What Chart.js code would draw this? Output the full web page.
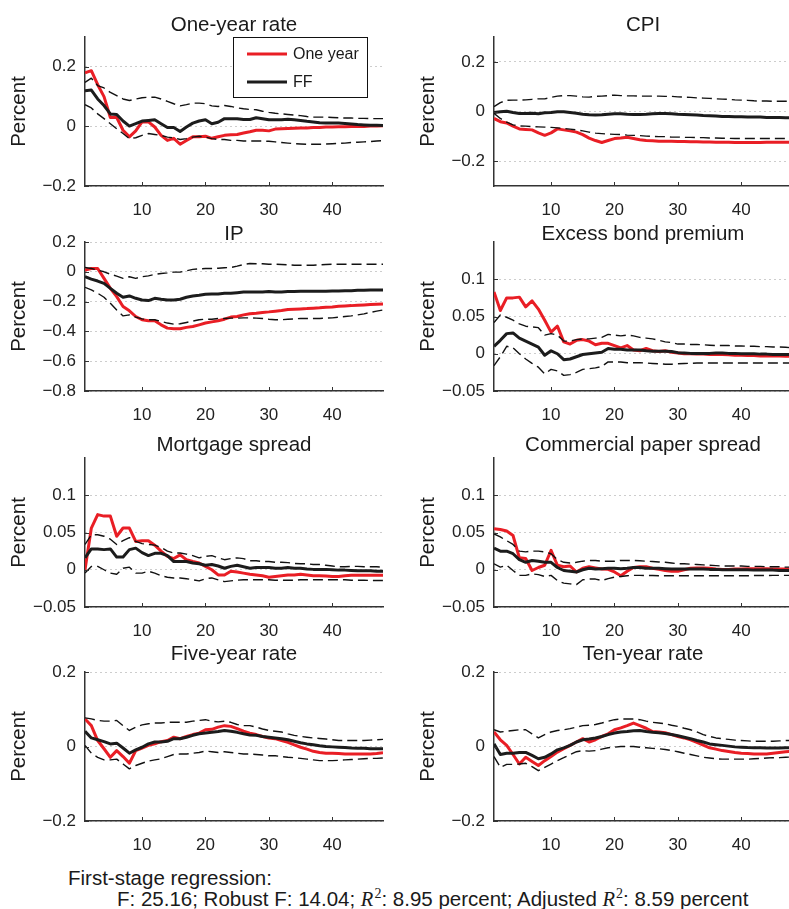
<!DOCTYPE html>
<html lang="en">
<head>
    <meta charset="UTF-8">
    <title>Impulse responses</title>
    <style>
        body {
            margin: 0;
            width: 789px;
            height: 909px;
            overflow: hidden;
            background: #fff;
            font-family: "Liberation Sans", Arial, sans-serif;
            color: #1a1a1a;
        }
        canvas {
            position: absolute;
        }
        .note {
            position: absolute;
            font-size: 20.5px;
            line-height: 21px;
            white-space: nowrap;
        }
        .note i {
            font-family: "Liberation Serif", "Times New Roman", serif;
        }
        .note .sup {
            font-family: "Liberation Serif", "Times New Roman", serif;
            font-size: 14px;
            position: relative;
            top: -8px;
            margin-left: 1px;
        }
    </style>
    <script src="https://cdn.jsdelivr.net/npm/chart.js@4.4.1/dist/chart.umd.min.js"></script>
</head>
<body>
    <canvas id="c0" width="395" height="218" style="left:0;top:0"></canvas>
    <canvas id="c1" width="395" height="218" style="left:409px;top:0"></canvas>
    <canvas id="c2" width="395" height="218" style="left:0;top:205px"></canvas>
    <canvas id="c3" width="395" height="218" style="left:409px;top:205px"></canvas>
    <canvas id="c4" width="395" height="218" style="left:0;top:421px"></canvas>
    <canvas id="c5" width="395" height="218" style="left:409px;top:421px"></canvas>
    <canvas id="c6" width="395" height="218" style="left:0;top:635px"></canvas>
    <canvas id="c7" width="395" height="218" style="left:409px;top:635px"></canvas>

    <div class="note" style="left:68px;top:867px">First-stage regression:</div>
    <div class="note" style="left:117px;top:888px">F: 25.16; Robust F: 14.04; <i>R</i><span class="sup">2</span>: 8.95 percent; Adjusted <i>R</i><span class="sup">2</span>: 8.59 percent</div>

    <script>
        // horizon (months)
        const horizon = [1, 2, 3, 4, 5, 6, 7, 8, 9, 10, 11, 12, 13, 14, 15, 16, 17, 18, 19, 20, 21, 22, 23, 24,
            25, 26, 27, 28, 29, 30, 31, 32, 33, 34, 35, 36, 37, 38, 39, 40, 41, 42, 43, 44, 45, 46, 47, 48];
        const xTicks = [10, 20, 30, 40];
        const seriesNames = ['One year', 'FF'];

        // One-year rate
        const rate1yOneYear = [0.18, 0.187, 0.14, 0.1, 0.03, 0.03, -0.013, -0.035, -0.015, 0.015, 0.015, -0.002, -0.03, -0.047, -0.04, -0.06, -0.047, -0.035, -0.035, -0.033, -0.04, -0.035, -0.03, -0.028,
            -0.027, -0.022, -0.018, -0.013, -0.013, -0.015, -0.009, -0.008, -0.007, -0.006, -0.005, -0.005, -0.004, -0.004, -0.002, -0.002, -0.001, -0.001, 0, 0, 0, 0.001, 0.001, 0.002];
        const rate1yFF = [0.12, 0.122, 0.092, 0.07, 0.042, 0.04, 0.018, 0.001, 0.009, 0.018, 0.02, 0.022, 0.009, -0.004, -0.004, -0.017, -0.002, 0.011, 0.018, 0.022, 0.009, 0.014, 0.026, 0.026,
            0.026, 0.023, 0.023, 0.029, 0.026, 0.022, 0.022, 0.022, 0.024, 0.022, 0.02, 0.017, 0.015, 0.012, 0.011, 0.011, 0.011, 0.01, 0.008, 0.006, 0.005, 0.004, 0.004, 0.003];
        const rate1yHi = [0.148, 0.162, 0.137, 0.129, 0.114, 0.103, 0.092, 0.087, 0.092, 0.096, 0.098, 0.098, 0.092, 0.084, 0.076, 0.069, 0.073, 0.078, 0.078, 0.076, 0.069, 0.067, 0.07, 0.067,
            0.062, 0.059, 0.057, 0.056, 0.051, 0.047, 0.044, 0.042, 0.04, 0.038, 0.036, 0.033, 0.031, 0.031, 0.031, 0.03, 0.029, 0.028, 0.028, 0.027, 0.027, 0.026, 0.026, 0.026];
        const rate1yLo = [0.073, 0.062, 0.042, 0.026, 0.009, -0.008, -0.024, -0.041, -0.038, -0.03, -0.024, -0.027, -0.03, -0.036, -0.038, -0.044, -0.041, -0.036, -0.033, -0.036, -0.041, -0.044, -0.044, -0.047,
            -0.047, -0.049, -0.049, -0.049, -0.049, -0.05, -0.052, -0.054, -0.056, -0.058, -0.059, -0.06, -0.06, -0.06, -0.059, -0.058, -0.057, -0.056, -0.054, -0.053, -0.052, -0.051, -0.049, -0.048];

        // CPI
        const cpiOneYear = [-0.028, -0.041, -0.046, -0.059, -0.07, -0.072, -0.074, -0.086, -0.096, -0.086, -0.07, -0.074, -0.078, -0.083, -0.093, -0.107, -0.117, -0.125, -0.117, -0.109, -0.107, -0.104, -0.109, -0.114,
            -0.117, -0.118, -0.12, -0.12, -0.12, -0.121, -0.121, -0.122, -0.122, -0.123, -0.123, -0.124, -0.124, -0.124, -0.125, -0.125, -0.125, -0.125, -0.125, -0.124, -0.124, -0.124, -0.124, -0.124];
        const cpiFF = [-0.004, -0.001, 0.001, -0.004, -0.008, -0.008, -0.007, -0.009, -0.005, -0.004, -0.001, -0.001, -0.004, -0.007, -0.011, -0.013, -0.014, -0.013, -0.011, -0.009, -0.009, -0.011, -0.012, -0.012,
            -0.011, -0.009, -0.008, -0.008, -0.009, -0.011, -0.012, -0.013, -0.014, -0.016, -0.017, -0.018, -0.02, -0.02, -0.021, -0.021, -0.022, -0.022, -0.022, -0.024, -0.024, -0.024, -0.025, -0.025];
        const cpiHi = [0.02, 0.036, 0.045, 0.046, 0.046, 0.047, 0.049, 0.051, 0.051, 0.057, 0.062, 0.064, 0.064, 0.062, 0.059, 0.058, 0.061, 0.062, 0.064, 0.066, 0.064, 0.063, 0.063, 0.062,
            0.062, 0.062, 0.062, 0.061, 0.061, 0.059, 0.058, 0.057, 0.055, 0.054, 0.053, 0.051, 0.05, 0.049, 0.047, 0.046, 0.045, 0.043, 0.042, 0.042, 0.041, 0.041, 0.041, 0.041];
        const cpiLo = [-0.007, -0.028, -0.043, -0.054, -0.058, -0.059, -0.061, -0.062, -0.063, -0.064, -0.066, -0.068, -0.071, -0.074, -0.078, -0.083, -0.087, -0.089, -0.091, -0.092, -0.093, -0.095, -0.096, -0.097,
            -0.099, -0.1, -0.101, -0.101, -0.103, -0.103, -0.104, -0.104, -0.105, -0.105, -0.107, -0.107, -0.108, -0.108, -0.109, -0.109, -0.109, -0.109, -0.109, -0.109, -0.109, -0.109, -0.109, -0.109];

        // IP
        const ipOneYear = [0.011, 0.022, 0.022, -0.044, -0.111, -0.167, -0.233, -0.262, -0.3, -0.322, -0.329, -0.329, -0.356, -0.378, -0.382, -0.382, -0.373, -0.367, -0.356, -0.344, -0.336, -0.329, -0.318, -0.304,
            -0.3, -0.289, -0.282, -0.278, -0.273, -0.269, -0.264, -0.26, -0.253, -0.251, -0.249, -0.247, -0.244, -0.242, -0.238, -0.236, -0.231, -0.229, -0.227, -0.224, -0.222, -0.22, -0.218, -0.216];
        const ipFF = [-0.033, -0.049, -0.062, -0.078, -0.111, -0.144, -0.171, -0.162, -0.178, -0.189, -0.193, -0.178, -0.184, -0.189, -0.189, -0.184, -0.171, -0.162, -0.158, -0.151, -0.149, -0.149, -0.144, -0.144,
            -0.14, -0.136, -0.136, -0.136, -0.136, -0.133, -0.136, -0.136, -0.133, -0.133, -0.131, -0.131, -0.131, -0.131, -0.131, -0.129, -0.129, -0.127, -0.127, -0.124, -0.124, -0.122, -0.122, -0.122];
        const ipHi = [0.029, 0.022, 0.011, 0, -0.016, -0.029, -0.044, -0.033, -0.044, -0.033, -0.027, -0.018, -0.011, -0.007, -0.002, -0.002, 0.007, 0.016, 0.02, 0.022, 0.022, 0.024, 0.027, 0.029,
            0.038, 0.049, 0.056, 0.054, 0.054, 0.051, 0.051, 0.049, 0.047, 0.044, 0.044, 0.044, 0.044, 0.047, 0.049, 0.051, 0.051, 0.051, 0.051, 0.051, 0.051, 0.051, 0.051, 0.051];
        const ipLo = [-0.104, -0.122, -0.144, -0.171, -0.211, -0.256, -0.296, -0.289, -0.304, -0.316, -0.322, -0.322, -0.333, -0.344, -0.351, -0.349, -0.34, -0.331, -0.322, -0.318, -0.318, -0.313, -0.313, -0.311,
            -0.311, -0.309, -0.309, -0.311, -0.313, -0.318, -0.322, -0.322, -0.318, -0.316, -0.313, -0.313, -0.313, -0.313, -0.311, -0.309, -0.304, -0.3, -0.296, -0.289, -0.282, -0.273, -0.264, -0.256];

        // Excess bond premium
        const ebpOneYear = [0.083, 0.058, 0.075, 0.075, 0.076, 0.063, 0.071, 0.06, 0.045, 0.029, 0.037, 0.016, 0.013, 0.018, 0.019, 0.017, 0.012, 0.014, 0.014, 0.011, 0.008, 0.011, 0.005, 0.004,
            0.007, 0.004, 0.003, 0.004, 0.002, 0.001, 0, 0, -0.0005, -0.0005, -0.001, -0.001, -0.001, -0.0015, -0.002, -0.002, -0.0022, -0.0022, -0.003, -0.003, -0.003, -0.003, -0.0033, -0.0033];
        const ebpFF = [0.01, 0.018, 0.027, 0.028, 0.021, 0.017, 0.013, 0.009, -0.002, 0.004, 0, -0.008, -0.007, -0.004, -0.001, 0, 0.001, 0.002, 0.007, 0.006, 0.006, 0.005, 0.005, 0.005,
            0.004, 0.0035, 0.0035, 0.0035, 0.003, 0.0015, 0.001, 0.0005, 0.0005, 0.0005, 0.0005, 0.001, 0.001, 0.0005, 0.0005, 0, 0, 0, -0.0005, -0.0005, -0.001, -0.001, -0.001, -0.001];
        const ebpHi = [0.042, 0.052, 0.049, 0.045, 0.04, 0.037, 0.036, 0.035, 0.025, 0.027, 0.025, 0.017, 0.017, 0.019, 0.02, 0.02, 0.021, 0.022, 0.026, 0.025, 0.024, 0.025, 0.024, 0.022,
            0.021, 0.02, 0.018, 0.016, 0.015, 0.013, 0.013, 0.0125, 0.0125, 0.012, 0.0115, 0.011, 0.011, 0.011, 0.0105, 0.0105, 0.01, 0.01, 0.0095, 0.0095, 0.009, 0.009, 0.0088, 0.008];
        const ebpLo = [-0.016, -0.004, 0.01, 0.008, 0, -0.007, -0.013, -0.018, -0.027, -0.021, -0.023, -0.029, -0.028, -0.025, -0.021, -0.02, -0.019, -0.017, -0.011, -0.011, -0.011, -0.012, -0.012, -0.012,
            -0.0125, -0.013, -0.0135, -0.014, -0.014, -0.0135, -0.013, -0.0128, -0.0125, -0.0125, -0.0125, -0.0125, -0.0125, -0.0125, -0.0125, -0.0125, -0.0125, -0.0125, -0.0125, -0.0125, -0.0125, -0.0125, -0.0125, -0.0125];

        // Mortgage spread
        const mortOneYear = [0, 0.056, 0.074, 0.072, 0.072, 0.045, 0.056, 0.056, 0.038, 0.039, 0.039, 0.033, 0.025, 0.018, 0.015, 0.02, 0.0135, 0.011, 0.009, 0.0045, 0, -0.007, -0.007, -0.002,
            -0.003, -0.0045, -0.006, -0.007, -0.008, -0.01, -0.009, -0.008, -0.007, -0.007, -0.006, -0.007, -0.008, -0.008, -0.0085, -0.009, -0.009, -0.008, -0.0075, -0.0075, -0.0075, -0.0075, -0.0075, -0.0075];
        const mortFF = [0.016, 0.028, 0.028, 0.027, 0.028, 0.017, 0.017, 0.027, 0.029, 0.023, 0.019, 0.022, 0.022, 0.019, 0.011, 0.011, 0.011, 0.009, 0.008, 0.006, 0.007, 0.005, 0.002, 0.0045,
            0.006, 0.004, 0.002, 0.003, 0.003, 0.003, 0.002, 0.002, 0.003, 0.002, 0.002, 0.001, 0.0005, 0.0005, 0.0005, 0, -0.0005, -0.0005, -0.001, -0.0015, -0.0015, -0.0015, -0.002, -0.002];
        const mortHi = [0.034, 0.047, 0.047, 0.045, 0.041, 0.034, 0.039, 0.043, 0.038, 0.035, 0.034, 0.033, 0.03, 0.025, 0.0225, 0.0225, 0.021, 0.019, 0.016, 0.018, 0.019, 0.016, 0.0135, 0.015,
            0.016, 0.015, 0.012, 0.012, 0.011, 0.011, 0.01, 0.01, 0.0095, 0.0085, 0.008, 0.008, 0.007, 0.007, 0.006, 0.005, 0.004, 0.004, 0.0045, 0.0045, 0.004, 0.004, 0.004, 0.0035];
        const mortLo = [-0.0045, 0.0045, 0.0045, 0, -0.0045, -0.006, 0.002, 0.0035, -0.0045, -0.0045, -0.002, -0.0045, -0.008, -0.01, -0.011, -0.011, -0.012, -0.0135, -0.015, -0.012, -0.011, -0.0135, -0.016, -0.015,
            -0.014, -0.0135, -0.0135, -0.0135, -0.0135, -0.0135, -0.014, -0.014, -0.014, -0.014, -0.0135, -0.0135, -0.0135, -0.0135, -0.0135, -0.0135, -0.0135, -0.0135, -0.014, -0.014, -0.014, -0.0145, -0.0145, -0.0145];

        // Commercial paper spread
        const cpOneYear = [0.055, 0.054, 0.052, 0.046, 0.016, 0.015, -0.001, 0.003, 0.006, 0.026, 0.006, 0.004, 0.005, -0.003, 0.002, 0.004, 0.0025, 0.001, 0.0005, -0.003, -0.008, -0.002, 0.003, 0.004,
            0.004, 0.002, 0.0005, -0.001, -0.002, -0.002, 0, 0.002, 0.0025, 0.0025, 0.002, 0.001, 0.0005, 0.0005, 0.001, 0.001, 0.0015, 0.0015, 0.0015, 0.0015, 0.001, 0.001, 0.001, 0.001];
        const cpFF = [0.029, 0.025, 0.025, 0.0215, 0.0135, 0.01, 0.0125, 0.0115, 0.01, 0.01, 0.003, -0.001, -0.002, -0.003, 0, 0.002, 0.001, 0.0015, 0.002, 0.002, 0.0015, 0.002, 0.003, 0.003,
            0.002, 0.002, 0.002, 0.0015, 0.001, 0.001, 0.001, 0.001, 0.001, 0.001, 0.0005, 0.0005, 0, 0, 0, 0, 0, -0.0005, -0.0005, -0.0005, -0.0005, -0.001, -0.001, -0.001];
        const cpHi = [0.048, 0.044, 0.039, 0.034, 0.025, 0.024, 0.025, 0.025, 0.024, 0.0215, 0.0135, 0.01, 0.009, 0.01, 0.0115, 0.0125, 0.0125, 0.0115, 0.0115, 0.0115, 0.0125, 0.0125, 0.0125, 0.012,
            0.0115, 0.011, 0.0105, 0.01, 0.009, 0.008, 0.008, 0.0075, 0.007, 0.0065, 0.006, 0.0055, 0.005, 0.005, 0.005, 0.005, 0.0045, 0.0045, 0.0045, 0.004, 0.004, 0.004, 0.0035, 0.0035];
        const cpLo = [0.008, 0.0035, 0.006, -0.001, -0.0075, -0.0075, -0.0055, -0.0065, -0.009, -0.0075, -0.0145, -0.018, -0.019, -0.02, -0.0135, -0.0125, -0.0125, -0.0145, -0.012, -0.01, -0.009, -0.008, -0.0075, -0.0075,
            -0.0078, -0.0078, -0.008, -0.008, -0.008, -0.008, -0.008, -0.008, -0.008, -0.008, -0.008, -0.008, -0.008, -0.008, -0.008, -0.008, -0.008, -0.0078, -0.0078, -0.0078, -0.0075, -0.0075, -0.0075, -0.0075];

        // Five-year rate
        const rate5yOneYear = [0.074, 0.056, 0.016, -0.006, -0.029, -0.011, -0.027, -0.045, -0.011, -0.004, 0.003, 0.007, 0.013, 0.016, 0.025, 0.021, 0.027, 0.032, 0.036, 0.045, 0.046, 0.052, 0.056, 0.054,
            0.048, 0.041, 0.036, 0.032, 0.027, 0.023, 0.021, 0.016, 0.011, 0.0045, -0.002, -0.007, -0.013, -0.016, -0.018, -0.018, -0.019, -0.02, -0.02, -0.02, -0.02, -0.02, -0.019, -0.017];
        const rate5yFF = [0.041, 0.023, 0.018, 0.013, 0.007, 0.009, -0.004, -0.018, -0.009, -0.002, 0.007, 0.012, 0.012, 0.014, 0.021, 0.021, 0.025, 0.03, 0.034, 0.036, 0.038, 0.04, 0.043, 0.041,
            0.038, 0.034, 0.031, 0.03, 0.027, 0.025, 0.023, 0.021, 0.018, 0.014, 0.01, 0.007, 0.0045, 0.002, 0, -0.001, -0.002, -0.003, -0.004, -0.0045, -0.005, -0.006, -0.006, -0.006];
        const rate5yHi = [0.077, 0.074, 0.07, 0.068, 0.068, 0.07, 0.056, 0.043, 0.052, 0.058, 0.061, 0.063, 0.063, 0.065, 0.065, 0.065, 0.065, 0.068, 0.07, 0.072, 0.068, 0.066, 0.068, 0.065,
            0.059, 0.056, 0.056, 0.052, 0.047, 0.043, 0.041, 0.039, 0.034, 0.03, 0.027, 0.025, 0.023, 0.0215, 0.02, 0.018, 0.016, 0.016, 0.016, 0.016, 0.016, 0.017, 0.018, 0.019];
        const rate5yLo = [0.003, -0.018, -0.029, -0.036, -0.036, -0.034, -0.047, -0.06, -0.051, -0.045, -0.039, -0.036, -0.033, -0.027, -0.0215, -0.02, -0.02, -0.018, -0.016, -0.0125, -0.014, -0.016, -0.014, -0.016,
            -0.018, -0.02, -0.02, -0.0215, -0.023, -0.025, -0.025, -0.027, -0.029, -0.03, -0.032, -0.034, -0.036, -0.038, -0.038, -0.038, -0.037, -0.036, -0.035, -0.034, -0.033, -0.032, -0.032, -0.031];

        // Ten-year rate
        const rate10yOneYear = [0.039, 0.018, 0.003, -0.0215, -0.047, -0.029, -0.04, -0.051, -0.038, -0.027, -0.015, -0.006, 0.003, 0.012, 0.021, 0.012, 0.018, 0.027, 0.034, 0.045, 0.05, 0.056, 0.063, 0.056,
            0.049, 0.04, 0.039, 0.037, 0.032, 0.027, 0.023, 0.018, 0.011, 0.0035, -0.0035, -0.007, -0.011, -0.0135, -0.016, -0.018, -0.019, -0.02, -0.02, -0.02, -0.018, -0.016, -0.014, -0.0125];
        const rate10yFF = [0.007, -0.0215, -0.018, -0.018, -0.016, -0.016, -0.024, -0.033, -0.029, -0.02, -0.009, -0.0035, 0.003, 0.012, 0.018, 0.02, 0.023, 0.027, 0.032, 0.036, 0.039, 0.04, 0.042, 0.043,
            0.04, 0.038, 0.037, 0.035, 0.032, 0.029, 0.025, 0.021, 0.016, 0.012, 0.007, 0.005, 0.003, 0.001, -0.001, -0.002, -0.003, -0.0035, -0.0035, -0.004, -0.004, -0.004, -0.0035, -0.0035];
        const rate10yHi = [0.045, 0.039, 0.041, 0.043, 0.045, 0.045, 0.034, 0.023, 0.032, 0.039, 0.043, 0.045, 0.048, 0.052, 0.056, 0.057, 0.059, 0.063, 0.068, 0.072, 0.074, 0.074, 0.074, 0.072,
            0.068, 0.065, 0.063, 0.061, 0.057, 0.054, 0.049, 0.045, 0.039, 0.032, 0.027, 0.023, 0.021, 0.019, 0.017, 0.016, 0.015, 0.014, 0.014, 0.014, 0.014, 0.015, 0.016, 0.016];
        const rate10yLo = [-0.027, -0.056, -0.048, -0.048, -0.047, -0.045, -0.054, -0.065, -0.056, -0.047, -0.038, -0.03, -0.0215, -0.014, -0.011, -0.0125, -0.011, -0.007, -0.0035, -0.002, 0, 0, 0, -0.002,
            -0.0035, -0.005, -0.006, -0.008, -0.011, -0.014, -0.018, -0.0215, -0.025, -0.029, -0.031, -0.033, -0.034, -0.034, -0.034, -0.034, -0.034, -0.033, -0.032, -0.031, -0.03, -0.03, -0.029, -0.028];

        // y tick labels per panel type
        const rateTicks = [-0.2, 0, 0.2];
        const ipTicks = [-0.8, -0.6, -0.4, -0.2, 0, 0.2];
        const spreadTicks = [-0.05, 0, 0.05, 0.1];

        const panels = [
            { title: 'One-year rate', series: [rate1yOneYear, rate1yFF, rate1yHi, rate1yLo], yMin: -0.2, yMax: 0.3, ticks: rateTicks, gap: 6, legend: true },
            { title: 'CPI', series: [cpiOneYear, cpiFF, cpiHi, cpiLo], yMin: -0.3, yMax: 0.3, ticks: rateTicks, gap: 6 },
            { title: 'IP', series: [ipOneYear, ipFF, ipHi, ipLo], yMin: -0.8, yMax: 0.2, ticks: ipTicks, gap: 2 },
            { title: 'Excess bond premium', series: [ebpOneYear, ebpFF, ebpHi, ebpLo], yMin: -0.05, yMax: 0.15, ticks: spreadTicks, gap: 2 },
            { title: 'Mortgage spread', series: [mortOneYear, mortFF, mortHi, mortLo], yMin: -0.05, yMax: 0.15, ticks: spreadTicks, gap: 7 },
            { title: 'Commercial paper spread', series: [cpOneYear, cpFF, cpHi, cpLo], yMin: -0.05, yMax: 0.15, ticks: spreadTicks, gap: 7 },
            { title: 'Five-year rate', series: [rate5yOneYear, rate5yFF, rate5yHi, rate5yLo], yMin: -0.2, yMax: 0.2, ticks: rateTicks, gap: 12 },
            { title: 'Ten-year rate', series: [rate10yOneYear, rate10yFF, rate10yHi, rate10yLo], yMin: -0.2, yMax: 0.2, ticks: rateTicks, gap: 12 }
        ];

        const RED = '#e91e25';
        const BLACK = '#1c1c1c';
        const FONT = '"Liberation Sans", Arial, sans-serif';

        Chart.defaults.font.family = FONT;
        Chart.defaults.font.size = 17;
        Chart.defaults.color = '#222';

        // title, inward tick marks and the legend box (MATLAB style)
        const panelDecor = {
            id: 'panelDecor',
            afterDraw(chart, args, opts) {
                const { ctx, chartArea: a, scales: { x, y } } = chart;
                ctx.save();

                ctx.strokeStyle = '#333';
                ctx.lineWidth = 1;
                ctx.beginPath();
                x.ticks.forEach(t => {
                    const px = Math.round(x.getPixelForValue(t.value)) + 0.5;
                    ctx.moveTo(px, a.bottom);
                    ctx.lineTo(px, a.bottom - 4);
                });
                y.ticks.forEach(t => {
                    const py = Math.round(y.getPixelForValue(t.value)) + 0.5;
                    ctx.moveTo(a.left, py);
                    ctx.lineTo(a.left + 4, py);
                });
                ctx.stroke();

                ctx.fillStyle = '#1a1a1a';
                ctx.font = '20.5px ' + FONT;
                ctx.textAlign = 'center';
                ctx.textBaseline = 'alphabetic';
                ctx.fillText(opts.text, (a.left + a.right) / 2, a.top - opts.gap);

                if (opts.legend) {
                    const bx = a.right - 150, by = a.top, bw = 135, bh = 61;
                    ctx.fillStyle = '#fff';
                    ctx.fillRect(bx, by, bw, bh);
                    ctx.strokeStyle = '#111';
                    ctx.lineWidth = 1;
                    ctx.strokeRect(bx + 0.5, by + 0.5, bw - 1, bh - 1);
                    ctx.font = '16px ' + FONT;
                    ctx.textAlign = 'left';
                    ctx.textBaseline = 'middle';
                    chart.data.datasets.slice(0, 2).forEach((ds, i) => {
                        const ly = by + 17 + i * 28;
                        ctx.strokeStyle = ds.borderColor;
                        ctx.lineWidth = ds.borderWidth;
                        ctx.beginPath();
                        ctx.moveTo(bx + 14, ly);
                        ctx.lineTo(bx + 54, ly);
                        ctx.stroke();
                        ctx.fillStyle = '#1a1a1a';
                        ctx.fillText(ds.label, bx + 60, ly + 1);
                    });
                }
                ctx.restore();
            }
        };

        function fmtTick(v) {
            if (v === 0) return '0';
            return v < 0 ? '\u2212' + String(-v) : String(v);
        }

        panels.forEach((p, i) => {
            const dashed = { borderColor: '#111', borderWidth: 1.4, borderDash: [10, 5], order: 0 };
            new Chart(document.getElementById('c' + i), {
                type: 'line',
                data: {
                    labels: horizon,
                    datasets: [
                        { label: seriesNames[0], data: p.series[0], borderColor: RED, borderWidth: 3, order: 2 },
                        { label: seriesNames[1], data: p.series[1], borderColor: BLACK, borderWidth: 3, order: 1 },
                        Object.assign({ label: 'upper', data: p.series[2] }, dashed),
                        Object.assign({ label: 'lower', data: p.series[3] }, dashed)
                    ]
                },
                options: {
                    responsive: false,
                    animation: false,
                    layout: { padding: { top: 37, right: 12, left: 0, bottom: 0 } },
                    elements: {
                        point: { radius: 0 },
                        line: { tension: 0, borderCapStyle: 'butt', borderJoinStyle: 'round' }
                    },
                    plugins: {
                        legend: { display: false },
                        tooltip: { enabled: false },
                        panelDecor: { text: p.title, gap: p.gap, legend: !!p.legend }
                    },
                    scales: {
                        x: {
                            type: 'linear',
                            min: 1,
                            max: 48,
                            afterBuildTicks: s => { s.ticks = xTicks.map(v => ({ value: v })); },
                            afterFit: s => { s.height = 32; },
                            grid: { display: false },
                            border: { display: true, color: '#333', width: 1.5 },
                            ticks: { padding: 6, maxRotation: 0, color: '#222' }
                        },
                        y: {
                            min: p.yMin,
                            max: p.yMax,
                            afterBuildTicks: s => { s.ticks = p.ticks.map(v => ({ value: v })); },
                            afterFit: s => { s.width = 85; },
                            grid: { color: '#9a9a9a', lineWidth: 1, drawTicks: false },
                            border: { display: true, color: '#333', width: 1.5, dash: [1, 4] },
                            ticks: { padding: 9, color: '#222', callback: fmtTick },
                            title: { display: true, text: 'Percent', font: { size: 20.5 }, color: '#1a1a1a', padding: { top: 7 } }
                        }
                    }
                },
                plugins: [panelDecor]
            });
        });
    </script>
</body>
</html>
